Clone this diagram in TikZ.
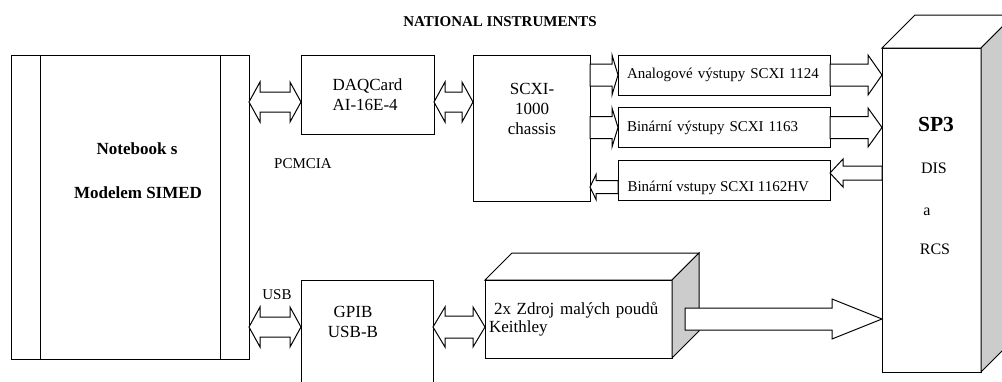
\documentclass[tikz,border=0pt]{standalone}
\usepackage{fontspec}
\setmainfont{Liberation Serif}
\usetikzlibrary{positioning,calc}

\newcommand\arrS{10pt}
\newcommand\arrH{20pt}
\newcommand\arrL{11pt}

\begin{document}
\begin{tikzpicture}[
        x=1pt, y=-1pt,
        line width=1pt,
        box/.style={
            draw,
            fill=white,
            inner sep=0pt,
            outer sep=0pt,
            align=center,
            font=\fontsize{17}{20}\selectfont
        },
        rowbox/.style={
            draw,
            fill=white,
            minimum height=40pt,
            text width=194pt,
            inner xsep=9pt,
            inner ysep=0pt,
            outer sep=0pt,
            align=left,
            font=\fontsize{15}{17}\selectfont
        },
        lbl/.style={inner sep=0pt, font=\fontsize{15}{17}\selectfont},
        txt/.style={inner sep=0pt, align=center, font=\fontsize{17}{20}\selectfont},
        boldtxt/.style={inner sep=0pt, font=\fontsize{17}{20}\selectfont\bfseries},
        fatline/.style={draw, fill=white, line join=miter},
        arrsize/.code n args={3}{\def\arrS{#1}\def\arrH{#2}\def\arrL{#3}},
        fatto/.style={to path={
            let \p1=(\tikztostart), \p2=(\tikztotarget),
                \n1={ifthenelse(\x2>\x1,1,-1)*\arrL} in
            (\x1,{\y1+\arrS}) -- ({\x2-(\n1)*1pt},{\y1+\arrS}) -- ({\x2-(\n1)*1pt},{\y1+\arrH})
            -- (\x2,\y1) -- ({\x2-(\n1)*1pt},{\y1-\arrH}) -- ({\x2-(\n1)*1pt},{\y1-\arrS})
            -- (\x1,{\y1-\arrS}) -- cycle}},
        dfatto/.style={to path={
            let \p1=(\tikztostart), \p2=(\tikztotarget) in
            (\x1,\y1) -- ({\x1+\arrL},{\y1+\arrH}) -- ({\x1+\arrL},{\y1+\arrS})
            -- ({\x2-\arrL},{\y1+\arrS}) -- ({\x2-\arrL},{\y1+\arrH}) -- (\x2,\y1)
            -- ({\x2-\arrL},{\y1-\arrH}) -- ({\x2-\arrL},{\y1-\arrS})
            -- ({\x1+\arrL},{\y1-\arrS}) -- ({\x1+\arrL},{\y1-\arrH}) -- cycle}}
    ]
        \useasboundingbox (0,0) rectangle (1002,381);
        \clip (0,0) rectangle (1002,381);

        \node[font=\fontsize{15}{17}\selectfont\bfseries] (title) at (500,22) {NATIONAL INSTRUMENTS};

        % notebook
        \node[box, minimum width=238pt, minimum height=304pt] (nb) at (130,207) {};
        \draw ([xshift=29pt]nb.north west) -- ([xshift=29pt]nb.south west);
        \draw ([xshift=-29pt]nb.north east) -- ([xshift=-29pt]nb.south east);
        \node[boldtxt] (nbname) at (137,149) {Notebook s};
        \node[boldtxt] (nbmodel) at (138,193) {Modelem SIMED};

        % national instruments cards
        \node[box, minimum width=133pt, minimum height=79pt, align=left] (daq) at (367.5,94.5) {DAQCard\\AI-16E-4};
        \node[box, minimum width=117pt, minimum height=146pt] (scxi) at (531.5,128) {};
        \node[txt] (scxitxt) at (532,109) {SCXI-\\1000\\chassis};
        \node[lbl] (pcmcia) at (303,164) {PCMCIA};

        \node[rowbox] (analog) at (724,75) {Analogové výstupy SCXI 1124};
        \node[rowbox] (binout) at (724,127.5) {Binární výstupy SCXI 1163};
        \node[rowbox] (binin) at (724,180) {};
        \node[lbl, anchor=west] (binintxt) at ([xshift=9pt,yshift=-8pt]binin.west) {Binární vstupy SCXI 1162HV};

        % gpib and current sources
        \node[box, minimum width=132pt, minimum height=120pt] (gpib) at (367,340) {};
        \node[txt] (gpibtxt) at (353,322) {GPIB\\USB-B};
        \node[lbl] (usb) at (277,295) {USB};

        \draw[fill=white] (578.5,280) ++(-93.5,0) -- ++(27,-27) -- ++(187,0) -- ++(-27,27) -- cycle;
        \node[box, minimum width=187pt, minimum height=78pt, text width=179pt, inner xsep=4pt,
              align=left, font=\fontsize{17}{18.5}\selectfont] (keith) at (578.5,319)
              {\hspace*{5pt}2x Zdroj malých poudů\\Keithley};
        \draw[fill=black!20] (keith.north east) -- ++(27,-27) -- ++(0,78) -- (keith.south east) -- cycle;

        % SP3
        \node[box, minimum width=99pt, minimum height=324pt] (sp3) at (931.5,210) {};
        \draw[fill=white] (sp3.north west) -- ++(33,-33) -- ++(99,0) -- (sp3.north east) -- cycle;
        \draw[fill=black!20] (sp3.north east) -- ++(33,-33) -- ++(0,324) -- (sp3.south east) -- cycle;
        \node[font=\fontsize{21.5}{24}\selectfont\bfseries] (sp3name) at (936,124) {SP3};
        \node[font=\fontsize{16}{18}\selectfont] (dis) at (934,168) {DIS};
        \node[font=\fontsize{16}{18}\selectfont] (conj) at (927,212) {a};
        \node[font=\fontsize{16}{18}\selectfont] (rcs) at (935,249) {RCS};

        % block arrows
        \coordinate (pcrow) at (0,102);
        \coordinate (usbrow) at (0,327);
        \coordinate (inrow) at ([yshift=7pt]binin.east);
        \coordinate (backrow) at ([yshift=-7pt]binin.west);

        \draw[fatline, arrsize={10pt}{20pt}{11pt}] (nb.east |- pcrow) to[dfatto] (daq.west |- pcrow);
        \draw[fatline, arrsize={10pt}{20pt}{11pt}] (daq.east |- pcrow) to[dfatto] (scxi.west |- pcrow);
        \draw[fatline, arrsize={10pt}{20pt}{11pt}] (nb.east |- usbrow) to[dfatto] (gpib.west |- usbrow);
        \draw[fatline, arrsize={11pt}{20pt}{12pt}] (gpib.east |- usbrow) to[dfatto] (keith.west |- usbrow);

        \draw[fatline, arrsize={11pt}{20pt}{6pt}] (scxi.east |- analog.west) to[fatto] (analog.west);
        \draw[fatline, arrsize={11pt}{20pt}{14pt}] (analog.east) to[fatto] (sp3.west |- analog.east);
        \draw[fatline, arrsize={11pt}{19.5pt}{6pt}] (scxi.east |- binout.west) to[fatto] (binout.west);
        \draw[fatline, arrsize={11pt}{19.5pt}{14pt}] (binout.east) to[fatto] (sp3.west |- binout.east);
        \draw[fatline, arrsize={7pt}{14pt}{13pt}] (sp3.west |- inrow) to[fatto] (inrow);
        \draw[fatline, arrsize={6.5pt}{12.5pt}{6pt}] (backrow) to[fatto] (scxi.east |- backrow);
        \draw[fatline, arrsize={11pt}{20pt}{50pt}] ([xshift=13pt]keith.east) to[fatto] (sp3.west |- keith.east);
    \end{tikzpicture}
\end{document}
